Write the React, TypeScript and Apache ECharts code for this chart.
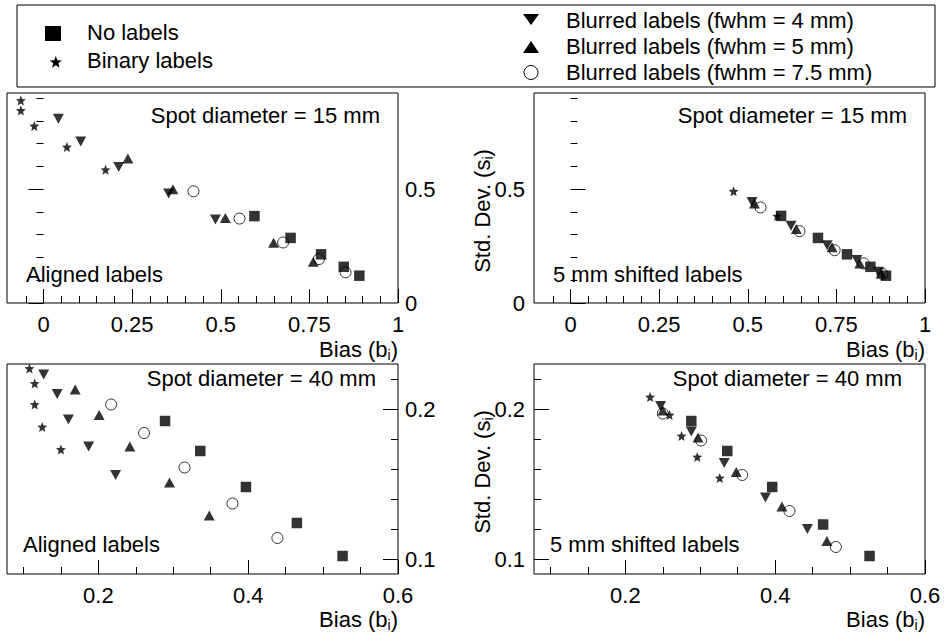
import React, { useEffect, useRef } from "react";
import * as echarts from "echarts";

// ---------- data (bias, std dev) ----------
// Panel 1: aligned labels, spot diameter 15 mm
const P1_BINARY = [[-0.064, 0.89], [-0.064, 0.846], [-0.026, 0.778], [0.066, 0.686], [0.175, 0.586]];
const P1_FWHM4 = [[0.042, 0.81], [0.105, 0.71], [0.212, 0.598], [0.353, 0.481], [0.485, 0.367]];
const P1_FWHM5 = [[0.238, 0.635], [0.365, 0.5], [0.513, 0.374], [0.649, 0.265], [0.761, 0.181]];
const P1_FWHM75 = [[0.423, 0.491], [0.553, 0.371], [0.676, 0.266], [0.777, 0.193], [0.852, 0.135]];
const P1_NONE = [[0.595, 0.382], [0.697, 0.286], [0.783, 0.214], [0.847, 0.159], [0.891, 0.12]];

// Panel 2: 5 mm shifted labels, spot diameter 15 mm
const P2_BINARY = [[0.46, 0.491], [0.583, 0.382]];
const P2_FWHM4 = [[0.512, 0.444], [0.622, 0.339], [0.724, 0.254], [0.808, 0.189], [0.869, 0.137]];
const P2_FWHM5 = [[0.519, 0.437], [0.637, 0.325], [0.738, 0.245], [0.816, 0.174], [0.876, 0.13]];
const P2_FWHM75 = [[0.536, 0.42], [0.646, 0.316], [0.745, 0.232], [0.827, 0.174], [0.88, 0.128]];
const P2_NONE = [[0.594, 0.383], [0.698, 0.286], [0.78, 0.214], [0.846, 0.159], [0.89, 0.12]];

// Panel 3: aligned labels, spot diameter 40 mm
const P3_BINARY = [[0.108, 0.227], [0.115, 0.217], [0.115, 0.203], [0.125, 0.188], [0.15, 0.173]];
const P3_FWHM4 = [[0.127, 0.223], [0.145, 0.21], [0.16, 0.193], [0.187, 0.175], [0.223, 0.156]];
const P3_FWHM5 = [[0.169, 0.213], [0.201, 0.196], [0.242, 0.175], [0.295, 0.151], [0.348, 0.129]];
const P3_FWHM75 = [[0.217, 0.203], [0.261, 0.184], [0.315, 0.161], [0.379, 0.137], [0.439, 0.114]];
const P3_NONE = [[0.289, 0.192], [0.336, 0.172], [0.397, 0.148], [0.465, 0.124], [0.526, 0.102]];

// Panel 4: 5 mm shifted labels, spot diameter 40 mm
const P4_BINARY = [[0.233, 0.208], [0.259, 0.196], [0.275, 0.182], [0.296, 0.168], [0.326, 0.154]];
const P4_FWHM4 = [[0.247, 0.202], [0.288, 0.185], [0.332, 0.164], [0.387, 0.141], [0.443, 0.12]];
const P4_FWHM5 = [[0.25, 0.199], [0.297, 0.181], [0.348, 0.158], [0.409, 0.135], [0.469, 0.112]];
const P4_FWHM75 = [[0.25, 0.197], [0.301, 0.179], [0.356, 0.156], [0.419, 0.132], [0.481, 0.108]];
const P4_NONE = [[0.288, 0.192], [0.336, 0.172], [0.396, 0.148], [0.464, 0.123], [0.526, 0.102]];

// ---------- ticks ----------
const X15_MAJOR = [0, 0.25, 0.5, 0.75, 1];
const X15_MINOR = [-0.05, 0.05, 0.1, 0.15, 0.2, 0.3, 0.35, 0.4, 0.45, 0.55, 0.6, 0.65, 0.7, 0.8, 0.85, 0.9, 0.95];
const Y15_MAJOR = [0, 0.5];
const Y15_MINOR = [0.1, 0.2, 0.3, 0.4, 0.6, 0.7, 0.8, 0.9];
const X40_MAJOR = [0.2, 0.4, 0.6];
const X40_MINOR = [0.1, 0.15, 0.25, 0.3, 0.35, 0.45, 0.5, 0.55];
const Y40_MAJOR = [0.1, 0.2];
const Y40_MINOR = [0.12, 0.14, 0.16, 0.18, 0.22];

const X15_RANGE = [-0.103, 1];
const Y15_RANGE = [0, 0.923];
const X40_RANGE = [0.078, 0.6];
const Y40_RANGE = [0.09, 0.23];

// ---------- labels ----------
const NAME_NONE = "No labels";
const NAME_BINARY = "Binary labels";
const NAME_FWHM4 = "Blurred labels (fwhm = 4 mm)";
const NAME_FWHM5 = "Blurred labels (fwhm = 5 mm)";
const NAME_FWHM75 = "Blurred labels (fwhm = 7.5 mm)";
const SPOT_15 = "Spot diameter = 15 mm";
const SPOT_40 = "Spot diameter = 40 mm";
const ALIGNED = "Aligned labels";
const SHIFTED = "5 mm shifted labels";

const FONT = "'Liberation Sans', Arial, Helvetica, sans-serif";

function starPoints(cx: number, cy: number, R: number, r: number) {
  const pts: number[][] = [];
  for (let i = 0; i < 10; i++) {
    const rad = i % 2 === 0 ? R : r;
    const a = -Math.PI / 2 + (i * Math.PI) / 5;
    pts.push([cx + rad * Math.cos(a), cy + rad * Math.sin(a)]);
  }
  return pts;
}
const STAR_PATH =
  "path://" +
  starPoints(0, 0, 10, 4.4)
    .map((p, i) => (i === 0 ? "M" : "L") + p[0].toFixed(2) + "," + p[1].toFixed(2))
    .join(" ") +
  " Z";

const GRIDS = [
  { left: 7, top: 93, width: 391, height: 210 },
  { left: 534, top: 93, width: 391, height: 210 },
  { left: 7, top: 364, width: 391, height: 210 },
  { left: 534, top: 364, width: 391, height: 210 },
];

function xAxes(grid: number, range: number[], major: number[], minor: number[]) {
  const base = {
    type: "value",
    gridIndex: grid,
    min: range[0],
    max: range[1],
    position: "bottom",
    axisLine: { show: false },
    splitLine: { show: false },
  };
  return [
    {
      ...base,
      axisTick: { show: true, inside: true, length: 14, customValues: major, lineStyle: { color: "#000", width: 1 } },
      axisLabel: { show: true, customValues: major, fontSize: 22, fontFamily: FONT, color: "#000", margin: 10 },
    },
    {
      ...base,
      axisTick: { show: true, inside: true, length: 7, customValues: minor, lineStyle: { color: "#000", width: 1 } },
      axisLabel: { show: false },
    },
  ];
}

function yAxes(grid: number, range: number[], major: number[], minor: number[], pos: string) {
  const base = {
    type: "value",
    gridIndex: grid,
    min: range[0],
    max: range[1],
    position: pos,
    axisLine: { show: false },
    splitLine: { show: false },
  };
  return [
    {
      ...base,
      axisTick: { show: true, inside: true, length: 15, customValues: major, lineStyle: { color: "#000", width: 1 } },
      axisLabel: { show: true, customValues: major, fontSize: 22, fontFamily: FONT, color: "#000", margin: pos === "right" ? 7 : 9 },
    },
    {
      ...base,
      axisTick: { show: true, inside: true, length: 7, customValues: minor, lineStyle: { color: "#000", width: 1 } },
      axisLabel: { show: false },
    },
  ];
}

function panelSeries(axisIdx: number, binary: number[][], f4: number[][], f5: number[][], f75: number[][], none: number[][]) {
  const common = {
    type: "scatter",
    xAxisIndex: axisIdx,
    yAxisIndex: axisIdx,
    silent: true,
    emphasis: { disabled: true },
  };
  return [
    { ...common, name: NAME_BINARY, data: binary, symbol: STAR_PATH, symbolSize: 10, itemStyle: { color: "#000" } },
    { ...common, name: NAME_FWHM4, data: f4, symbol: "triangle", symbolRotate: 180, symbolSize: [11, 10], itemStyle: { color: "#000" } },
    { ...common, name: NAME_FWHM5, data: f5, symbol: "triangle", symbolSize: [11, 10], itemStyle: { color: "#000" } },
    {
      ...common,
      name: NAME_FWHM75,
      data: f75,
      symbol: "circle",
      symbolSize: 11,
      itemStyle: { color: "rgba(0,0,0,0)", borderColor: "#000", borderWidth: 1 },
    },
    { ...common, name: NAME_NONE, data: none, symbol: "rect", symbolSize: 10.5, itemStyle: { color: "#000" } },
  ];
}

function txt(x: number, y: number, text: string, align: string) {
  return {
    type: "text",
    x,
    y,
    silent: true,
    style: { text, fontSize: 22, fontFamily: FONT, fill: "#000", align, verticalAlign: "middle" },
  };
}

function richTxt(x: number, y: number, main: string, sub: string, align: string, rotation = 0) {
  return {
    type: "text",
    x,
    y,
    rotation,
    silent: true,
    style: {
      text: `{a|${main}}{s|${sub}}{a|)}`,
      align,
      verticalAlign: "middle",
      fill: "#000",
      rich: {
        a: { fontSize: 22, fontFamily: FONT, fill: "#000", lineHeight: 26 },
        s: { fontSize: 14, fontFamily: FONT, fill: "#000", lineHeight: 14, verticalAlign: "bottom" },
      },
    },
  };
}

export default function App() {
  const ref = useRef<HTMLDivElement>(null);
  useEffect(() => {
    if (!ref.current) return;
    const chart = echarts.init(ref.current, undefined, { renderer: "svg" });

    const xs = [
      ...xAxes(0, X15_RANGE, X15_MAJOR, X15_MINOR),
      ...xAxes(1, X15_RANGE, X15_MAJOR, X15_MINOR),
      ...xAxes(2, X40_RANGE, X40_MAJOR, X40_MINOR),
      ...xAxes(3, X40_RANGE, X40_MAJOR, X40_MINOR),
    ];
    const ys = [
      ...yAxes(0, Y15_RANGE, Y15_MAJOR, Y15_MINOR, "right"),
      ...yAxes(1, Y15_RANGE, Y15_MAJOR, Y15_MINOR, "left"),
      ...yAxes(2, Y40_RANGE, Y40_MAJOR, Y40_MINOR, "right"),
      ...yAxes(3, Y40_RANGE, Y40_MAJOR, Y40_MINOR, "left"),
    ];

    const series = [
      ...panelSeries(0, P1_BINARY, P1_FWHM4, P1_FWHM5, P1_FWHM75, P1_NONE),
      ...panelSeries(2, P2_BINARY, P2_FWHM4, P2_FWHM5, P2_FWHM75, P2_NONE),
      ...panelSeries(4, P3_BINARY, P3_FWHM4, P3_FWHM5, P3_FWHM75, P3_NONE),
      ...panelSeries(6, P4_BINARY, P4_FWHM4, P4_FWHM5, P4_FWHM75, P4_NONE),
    ];

    const graphic = [
      // legend box
      { type: "rect", silent: true, shape: { x: 17, y: 5, width: 918, height: 82 }, style: { fill: "none", stroke: "#000", lineWidth: 1 } },
      { type: "rect", silent: true, shape: { x: 45, y: 26, width: 16, height: 15 }, style: { fill: "#000" } },
      txt(87, 32, NAME_NONE, "left"),
      { type: "polygon", silent: true, shape: { points: starPoints(55.8, 62.5, 6.4, 2.7) }, style: { fill: "#000" } },
      txt(87, 60.5, NAME_BINARY, "left"),
      { type: "polygon", silent: true, shape: { points: [[523, 14], [539, 14], [531, 25]] }, style: { fill: "#000" } },
      txt(566, 20, NAME_FWHM4, "left"),
      { type: "polygon", silent: true, shape: { points: [[523, 53], [539, 53], [531, 41]] }, style: { fill: "#000" } },
      txt(566, 46.5, NAME_FWHM5, "left"),
      { type: "circle", silent: true, shape: { cx: 531, cy: 72.5, r: 7 }, style: { fill: "none", stroke: "#000", lineWidth: 1 } },
      txt(566, 72.5, NAME_FWHM75, "left"),
      // panel annotations
      txt(380, 115, SPOT_15, "right"),
      txt(26, 274.5, ALIGNED, "left"),
      txt(907, 115, SPOT_15, "right"),
      txt(553, 274.5, SHIFTED, "left"),
      txt(376, 378.5, SPOT_40, "right"),
      txt(23, 544.5, ALIGNED, "left"),
      txt(902, 378.5, SPOT_40, "right"),
      txt(550, 544.5, SHIFTED, "left"),
      // axis titles
      richTxt(398, 349, "Bias (b", "i", "right"),
      richTxt(925, 349, "Bias (b", "i", "right"),
      richTxt(398, 619, "Bias (b", "i", "right"),
      richTxt(925, 619, "Bias (b", "i", "right"),
      richTxt(482, 211, "Std. Dev. (s", "i", "center", Math.PI / 2),
      richTxt(482, 472, "Std. Dev. (s", "i", "center", Math.PI / 2),
    ];

    chart.setOption({
      animation: false,
      backgroundColor: "#fff",
      textStyle: { fontFamily: FONT },
      grid: GRIDS.map((g) => ({ ...g, show: true, borderColor: "#000", borderWidth: 1, backgroundColor: "transparent" })),
      xAxis: xs,
      yAxis: ys,
      series,
      graphic,
    });
    return () => chart.dispose();
  }, []);
  return <div ref={ref} style={{ position: "fixed", left: 0, top: 0, width: 946, height: 637, background: "#fff" }} />;
}
